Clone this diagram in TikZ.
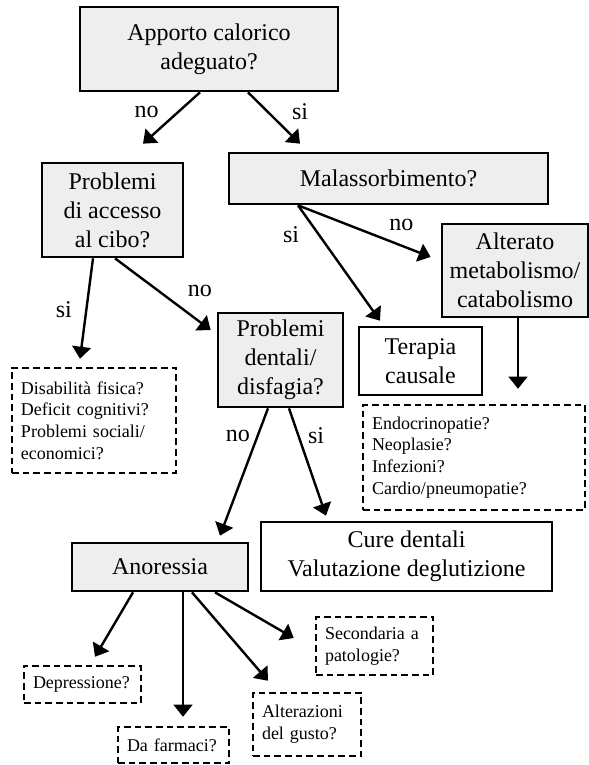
\documentclass[tikz,border=0pt]{standalone}
\usepackage{fontspec}
\setmainfont{Liberation Serif}
\usepackage{tikz}
\usetikzlibrary{arrows.meta,positioning}
\definecolor{boxgray}{gray}{0.935}

\begin{document}
\begin{tikzpicture}[x=0.75pt, y=-0.75pt,
	box/.style={draw, line width=2pt, inner sep=0pt, align=center, font=\fontsize{18}{21.75}\selectfont},
	qbox/.style={box, fill=boxgray},
	dbox/.style={draw, line width=1.9pt, dash pattern=on 5pt off 3pt, inner xsep=6.75pt, inner ysep=0pt, align=left, font=\fontsize{13.5}{16.3}\selectfont},
	arr/.style={line width=1.8pt, -{Triangle[length=9pt,width=14pt]}},
	lbl/.style={inner sep=0pt, font=\fontsize{18}{21.75}\selectfont}]
\useasboundingbox (0,0) rectangle (589,765);

\node[qbox, minimum width=193.5pt, minimum height=63pt] (apporto) at (209,49) {Apporto calorico\\adeguato?};
\node[qbox, minimum width=105.75pt, minimum height=70.5pt] (accesso) at (112.5,210) {Problemi\\di accesso\\al cibo?};
\node[qbox, minimum width=239.25pt, minimum height=38.25pt] (malass) at (388.5,178.5) {Malassorbimento?};
\node[qbox, minimum width=109.5pt, minimum height=69.75pt] (metab) at (515,270.5) {Alterato\\metabolismo/\\catabolismo};
\node[qbox, minimum width=93.75pt, minimum height=70.5pt] (dentali) at (280.5,360) {Problemi\\dentali/\\disfagia?};
\node[box, minimum width=92.25pt, minimum height=51pt] (terapia) at (420.5,361) {Terapia\\causale};
\node[box, minimum width=218.25pt, minimum height=51.75pt] (cure) at (406.5,556.5) {Cure dentali\\Valutazione deglutizione};
\node[qbox, minimum width=132pt, minimum height=36pt] (anor) at (160,567) {Anoressia};

\node[dbox, text width=109.5pt, minimum height=78.75pt] (disab) at (94,420.5) {Disabilità fisica?\\Deficit cognitivi?\\Problemi sociali/\\economici?};
\node[dbox, text width=153pt, minimum height=78.75pt] (endo) at (474,457.5) {Endocrinopatie?\\Neoplasie?\\Infezioni?\\Cardio/pneumopatie?};
\node[dbox, text width=74.25pt, minimum height=27.75pt] (depr) at (82.5,684.5) {Depressione?};
\node[dbox, text width=69.75pt, minimum height=27pt] (farm) at (173.5,745) {Da farmaci?};
\node[dbox, text width=67.5pt, minimum height=47.25pt] (gusto) at (307,724.5) {Alterazioni\\del gusto?};
\node[dbox, text width=74.25pt, minimum height=43.5pt] (second) at (374.5,646) {Secondaria a\\patologie?};

\path[arr]
([shift={(-9,0)}]apporto.south) edge node[lbl, pos=0.377, left=14pt] {no} ([shift={(30.5,-18)}]accesso.north)
([shift={(39,0)}]apporto.south) edge node[lbl, pos=0.377, right=17.5pt] {si} ([shift={(-88.5,-8)}]malass.north)
([shift={(-90.5,0)}]malass.south) edge node[lbl, pos=0.78, above=10pt] {no} ([shift={(-10,-13.5)}]metab.west)
edge node[lbl, pos=0.256, left=14pt] {si} ([shift={(-40.5,-5)}]terapia.north)
([shift={(3,0)}]metab.south) edge ([shift={(44,-15)}]endo.north)
([shift={(-19.5,0)}]accesso.south) edge node[lbl, pos=0.51, left=10pt] {si} ([shift={(-14,-8)}]disab.north)
([shift={(2.5,0)}]accesso.south) edge node[lbl, pos=0.75, above right=10.5pt and 0pt] {no} ([shift={(-6,-30)}]dentali.west)
([shift={(-12.5,0)}]dentali.south) edge node[lbl, pos=0.215, left=5pt] {no} ([shift={(60,-6)}]anor.north)
([shift={(8.5,0)}]dentali.south) edge node[lbl, pos=0.25, right=6.5pt] {si} ([shift={(-80.5,-5)}]cure.north)
%cause di anoressia
([shift={(-27,0)}]anor.south) edge ([shift={(12.5,-8)}]depr.north)
([shift={(23,0)}]anor.south) edge ([shift={(9.5,-9)}]farm.north)
([shift={(32,0)}]anor.south) edge ([shift={(-39,-11)}]gusto.north)
([shift={(55,0)}]anor.south) edge ([shift={(-21,-8)}]second.west)
;
\end{tikzpicture}
\end{document}
